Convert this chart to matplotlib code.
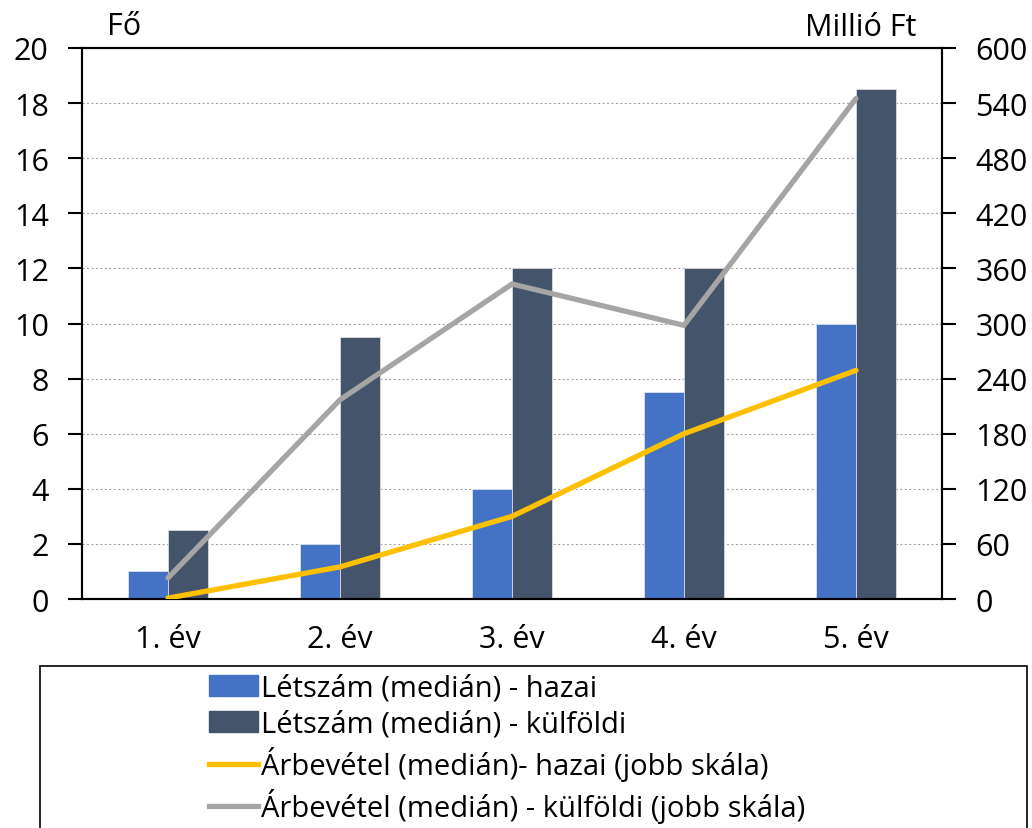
import numpy as np
import matplotlib.pyplot as plt
from matplotlib.patches import Rectangle
from matplotlib.lines import Line2D

plt.rcParams['font.family'] = ['Open Sans', 'DejaVu Sans']

# adatok
evek = ['1. év', '2. év', '3. év', '4. év', '5. év']
letszam_hazai = [1, 2, 4, 7.5, 10]
letszam_kulfoldi = [2.5, 9.5, 12, 12, 18.5]
arbevetel_hazai = [1, 35, 90, 180, 249]
arbevetel_kulfoldi = [23, 217, 343, 298, 545]

c_hazai = '#4472C4'
c_kulf = '#44546A'
c_arb_h = '#FFC000'
c_arb_k = '#A5A5A5'

fig = plt.figure(figsize=(10.32, 8.29), dpi=100)
ax = fig.add_axes([0.0795, 0.2762, 0.8333, 0.6647])
ax2 = ax.twinx()

x = np.arange(len(evek))
w = 0.233
ax.bar(x - w/2, letszam_hazai, w, color=c_hazai, edgecolor='#d9e1f2', linewidth=0.6, zorder=2)
ax.bar(x + w/2, letszam_kulfoldi, w, color=c_kulf, edgecolor='#d9d9d9', linewidth=0.6, zorder=2)

ax2.plot(x, arbevetel_hazai, color=c_arb_h, lw=3.8, solid_capstyle='round', zorder=3)
ax2.plot(x, arbevetel_kulfoldi, color=c_arb_k, lw=3.8, solid_capstyle='round', zorder=3)

ax.set_xlim(-0.5, 4.5)
ax.set_ylim(0, 20)
ax.set_yticks(np.arange(0, 21, 2))
ax2.set_ylim(0, 600)
ax2.set_yticks(np.arange(0, 601, 60))
ax.set_xticks(x)
ax.set_xticklabels(evek)

ax.yaxis.grid(True, linestyle=(0, (2, 2)), color='#a6a6a6', linewidth=0.8)
ax.set_axisbelow(True)

for a in (ax, ax2):
    for s in a.spines.values():
        s.set_linewidth(1.5)
        s.set_color('black')
    a.tick_params(axis='both', labelsize=22, width=1.5, length=10, direction='out', pad=14)
ax.tick_params(axis='x', length=0, pad=18)

fig.text(0.104, 0.968, 'Fő', fontsize=22, ha='left', va='center')
fig.text(0.888, 0.966, 'Millió Ft', fontsize=22, ha='right', va='center')

# jelmagyarázat kerettel
fig.patches.append(Rectangle((0.039, -0.05), 0.956, 0.246, transform=fig.transFigure,
                             fill=False, edgecolor='black', linewidth=1.2))
handles = [
    Rectangle((0, 0), 1, 1, color=c_hazai),
    Rectangle((0, 0), 1, 1, color=c_kulf),
    Line2D([0], [0], color=c_arb_h, lw=3.8),
    Line2D([0], [0], color=c_arb_k, lw=3.8),
]
labels = ['Létszám (medián) - hazai', 'Létszám (medián) - külföldi',
          'Árbevétel (medián)- hazai (jobb skála)', 'Árbevétel (medián) - külföldi (jobb skála)']
fig.legend(handles, labels, loc='upper left', bbox_to_anchor=(0.203, 0.186),
           frameon=False, fontsize=21, handlelength=1.65, handletextpad=0.12,
           labelspacing=0.24, borderpad=0, borderaxespad=0)

fig.savefig('out.png', dpi=100)
